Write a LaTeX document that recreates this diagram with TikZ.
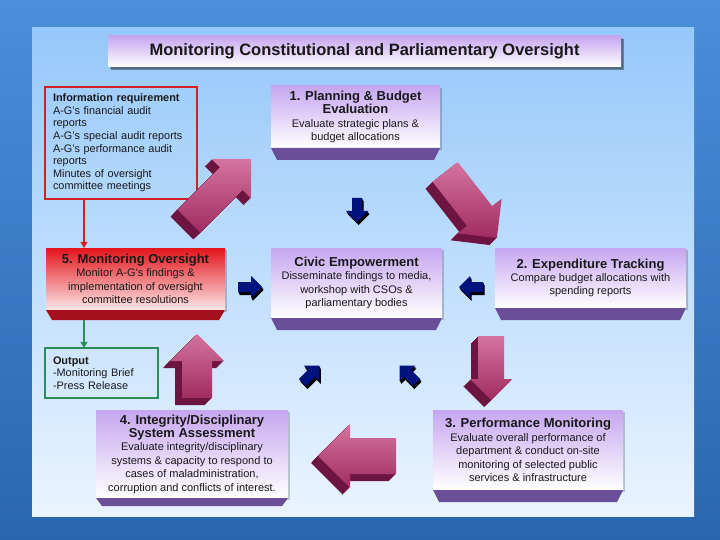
\documentclass[tikz,border=0pt]{standalone}
\usepackage{fontspec}
\setmainfont{Liberation Sans}
\usetikzlibrary{arrows.meta,calc,shadows}

\definecolor{bgtop}{HTML}{4A8FD8}
\definecolor{bgbot}{HTML}{2A66B0}
\definecolor{paneltop}{HTML}{96C8FA}
\definecolor{panelbot}{HTML}{EAF4FF}
\definecolor{lilac}{HTML}{C6A6F0}
\definecolor{bandpurple}{HTML}{6A4E98}
\definecolor{alertred}{HTML}{E3141C}
\definecolor{bandred}{HTML}{A3101B}
\definecolor{infored}{HTML}{D42020}
\definecolor{outgreen}{HTML}{2E8B5A}
\definecolor{arrowlight}{HTML}{D4749F}
\definecolor{arrowdark}{HTML}{A02C60}
\definecolor{arrowside}{HTML}{6E1440}
\definecolor{navy}{HTML}{00127E}

\newcommand{\boxhead}[1]{{\fontsize{13}{14}\selectfont\bfseries #1}}

\begin{document}
\begin{tikzpicture}[x=1pt, y=-1pt, >=Triangle, line width=.45pt,
    font=\fontsize{11}{13.4}\selectfont,
    stagebox/.style={inner sep=2pt, outer sep=0pt, align=center, text=black!90,
      top color=lilac, middle color=lilac!30, bottom color=white,
      drop shadow={shadow xshift=2pt, shadow yshift=-2pt, fill=black, opacity=.2}},
    alertbox/.style={stagebox, top color=alertred, middle color=alertred!45, bottom color=alertred!10},
    notebox/.style={draw, line width=1.2pt, inner xsep=8pt, inner ysep=2pt, outer sep=0pt,
      align=left, text=black!90, font=\fontsize{10.9}{12.6}\selectfont}]
    \useasboundingbox (0,0) rectangle (720,540);
    \shade[top color=bgtop, bottom color=bgbot] (0,0) rectangle (720,540);
    \shade[top color=paneltop, bottom color=panelbot] (32,28) rectangle (694,516);

    \node[stagebox, minimum width=513pt, minimum height=31pt, font=\fontsize{16.5}{18}\selectfont\bfseries,
      drop shadow={shadow xshift=3pt, shadow yshift=-3pt, fill=black, opacity=.35}]
      (title) at (364.5,51.5) {Monitoring Constitutional and Parliamentary Oversight};

    \node[notebox, draw=infored, text width=136pt, minimum height=112pt] (info) at (121,143)
      {\textbf{Information requirement}\\A-G's financial audit\\reports\\A-G's special audit reports\\
       A-G's performance audit\\reports\\Minutes of oversight\\committee meetings};
    \node[notebox, draw=outgreen, text width=97pt, minimum height=50pt] (out) at (101.5,373)
      {\textbf{Output}\\-Monitoring Brief\\-Press Release};

    \node[stagebox, minimum width=169pt, minimum height=62pt] (plan) at (355.5,117)
      {\boxhead{1. Planning \& Budget}\\\boxhead{Evaluation}\\Evaluate strategic plans \&\\budget allocations};
    \node[alertbox, minimum width=179pt, minimum height=62pt] (mon) at (135.5,279)
      {\boxhead{5. Monitoring Oversight}\\Monitor A-G's findings \&\\implementation of oversight\\committee resolutions};
    \node[stagebox, minimum width=171pt, minimum height=70pt] (civic) at (356.5,283)
      {\boxhead{Civic Empowerment}\\Disseminate findings to media,\\workshop with CSOs \&\\parliamentary bodies};
    \node[stagebox, minimum width=191pt, minimum height=60pt] (track) at (590.5,278)
      {\boxhead{2. Expenditure Tracking}\\Compare budget allocations with\\spending reports};
    \node[stagebox, minimum width=192pt, minimum height=88pt] (integ) at (192,454)
      {\boxhead{4. Integrity/Disciplinary}\\\boxhead{System Assessment}\\Evaluate integrity/disciplinary\\
       systems \& capacity to respond to\\cases of maladministration,\\corruption and conflicts of interest.};
    \node[stagebox, minimum width=190pt, minimum height=80pt] (perf) at (528,450)
      {\boxhead{3. Performance Monitoring}\\Evaluate overall performance of\\department \& conduct on-site\\
       monitoring of selected public\\services \& infrastructure};

    \foreach \n/\d in {plan/12,civic/12,track/12,integ/8,perf/12}
      \fill[bandpurple] (\n.south west) -- (\n.south east) -- ++(-6,\d) -- ($(\n.south west)+(6,\d)$) -- cycle;
    \fill[bandred] (mon.south west) -- (mon.south east) -- ++(-6,10) -- ($(mon.south west)+(6,10)$) -- cycle;

    \draw[->, infored, line width=1.2pt] ([xshift=39pt]info.south west) -- ([xshift=38pt]mon.north west);
    \draw[->, outgreen, line width=1.2pt] ([xshift=38pt,yshift=-10pt]mon.south west) -- ([xshift=39pt]out.north west);

    % big 3-d arrows round the cycle
    \foreach \cx/\cy/\ang/\len/\hh/\sh in {220/190/45/88/28/16, 471/205/-52/84/28/16,
        491/368/-90/64/21/13, 357/456/180/78/32/18, 197/366/90/64/27/15} {
      \foreach \k in {7,6,...,1}
        \fill[arrowside, shift={(\cx-\k,\cy+\k)}, rotate=\ang]
          (-\len/2,-\sh) -- (\len/2-\hh,-\sh) -- (\len/2-\hh,-\hh) -- (\len/2,0)
          -- (\len/2-\hh,\hh) -- (\len/2-\hh,\sh) -- (-\len/2,\sh) -- cycle;
      \shade[top color=arrowlight, bottom color=arrowdark, shift={(\cx,\cy)}, rotate=\ang]
          (-\len/2,-\sh) -- (\len/2-\hh,-\sh) -- (\len/2-\hh,-\hh) -- (\len/2,0)
          -- (\len/2-\hh,\hh) -- (\len/2-\hh,\sh) -- (-\len/2,\sh) -- cycle;
    }

    % small arrows into the civic box
    \foreach \cx/\cy/\ang in {357/210/-90, 250/287/0, 471/287/180, 311/374/45, 408/374/135} {
      \foreach \k in {3,2,1}
        \fill[black, shift={(\cx+\k/2,\cy+\k)}, rotate=\ang]
          (-12,-5) -- (1,-5) -- (1,-11) -- (12,0) -- (1,11) -- (1,5) -- (-12,5) -- cycle;
      \fill[navy, shift={(\cx,\cy)}, rotate=\ang]
          (-12,-5) -- (1,-5) -- (1,-11) -- (12,0) -- (1,11) -- (1,5) -- (-12,5) -- cycle;
    }
  \end{tikzpicture}
\end{document}
